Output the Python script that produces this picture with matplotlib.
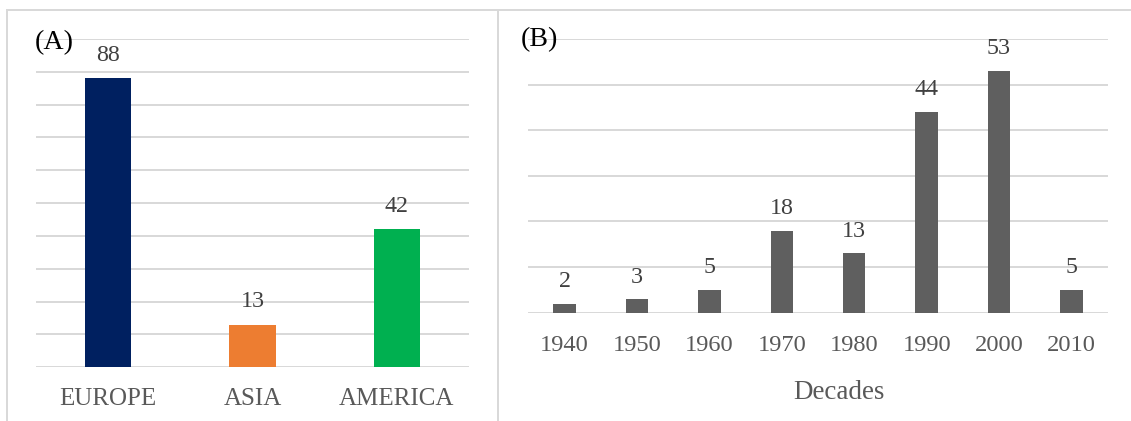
import matplotlib
matplotlib.use("Agg")
import matplotlib.pyplot as plt
from matplotlib.lines import Line2D

# Panel A: records by continent
regions = ["EUROPE", "ASIA", "AMERICA"]
region_counts = [88, 13, 42]
region_colors = ["#002060", "#ED7D31", "#00B050"]

# Panel B: records by decade
decades = ["1940", "1950", "1960", "1970", "1980", "1990", "2000", "2010"]
decade_counts = [2, 3, 5, 18, 13, 44, 53, 5]
decade_color = "#5F5F5F"

W, H, DPI = 1131, 421, 100
PT = 72.0 / DPI  # points per pixel

plt.rcParams["font.family"] = ["Liberation Serif", "DejaVu Serif"]

fig = plt.figure(figsize=(W / DPI, H / DPI), dpi=DPI)
fig.patch.set_facecolor("white")

GRID = "#D9D9D9"
LABEL = "#595959"
VALUE = "#404040"


def px_axes(x0, x1, ytop, ybot):
    return fig.add_axes([x0 / W, 1 - ybot / H, (x1 - x0) / W, (ybot - ytop) / H])


def style(ax, ymax, step, tick_px, pad):
    ax.set_ylim(0, ymax)
    ax.set_yticks(range(0, ymax + 1, step))
    ax.yaxis.grid(True, color=GRID, linewidth=2.0 * PT)
    ax.set_axisbelow(True)
    for s in ax.spines.values():
        s.set_visible(False)
    ax.tick_params(axis="y", left=False, labelleft=False)
    ax.tick_params(axis="x", length=0, pad=pad, labelsize=tick_px * PT, labelcolor=LABEL)


def label_bars(ax, xs, vals, size, off_px):
    for x, v in zip(xs, vals):
        ax.annotate(str(v), (x, v), xytext=(0, off_px * PT), textcoords="offset points",
                    ha="center", va="center", fontsize=size, color=VALUE)


# ---- Panel A ----
axA = px_axes(36, 469, 39, 367.3)
xa = list(range(len(regions)))
axA.bar(xa, region_counts, width=0.32, color=region_colors, zorder=2)
axA.set_xlim(-0.5, len(regions) - 0.5)
style(axA, 100, 10, 25, 14.6)
axA.set_xticks(xa)
axA.set_xticklabels(regions)
label_bars(axA, xa, region_counts, 24 * PT, 23)

# ---- Panel B ----
axB = px_axes(528.3, 1107.7, 39, 312.7)
xb = list(range(len(decades)))
axB.bar(xb, decade_counts, width=0.31, color=decade_color, zorder=2)
axB.set_xlim(-0.5, len(decades) - 0.5)
style(axB, 60, 10, 24.5, 15.7)
axB.set_xticks(xb)
axB.set_xticklabels(decades)
label_bars(axB, xb, decade_counts, 24 * PT, 22)
axB.set_xlabel("Decades", fontsize=27 * PT, color=LABEL)
axB.xaxis.set_label_coords((839 - 528.3) / (1107.7 - 528.3), (312.7 - 392.5) / (312.7 - 39))
axB.xaxis.label.set_va("center")

# Panel tags
fig.text(54.5 / W, 1 - 43 / H, "(A)", ha="center", va="center", fontsize=28 * PT, color="black")
fig.text(539 / W, 1 - 40 / H, "(B)", ha="center", va="center", fontsize=28 * PT, color="black")

# Chart frames
frame = dict(color=GRID, linewidth=2.0 * PT, transform=fig.transFigure)
fig.add_artist(Line2D([7 / W, 1], [1 - 10 / H, 1 - 10 / H], **frame))
fig.add_artist(Line2D([7 / W, 7 / W], [0, 1 - 10 / H], **frame))
fig.add_artist(Line2D([497.5 / W, 497.5 / W], [0, 1 - 10 / H], **frame))

fig.savefig("out.png", dpi=DPI, facecolor="white")
